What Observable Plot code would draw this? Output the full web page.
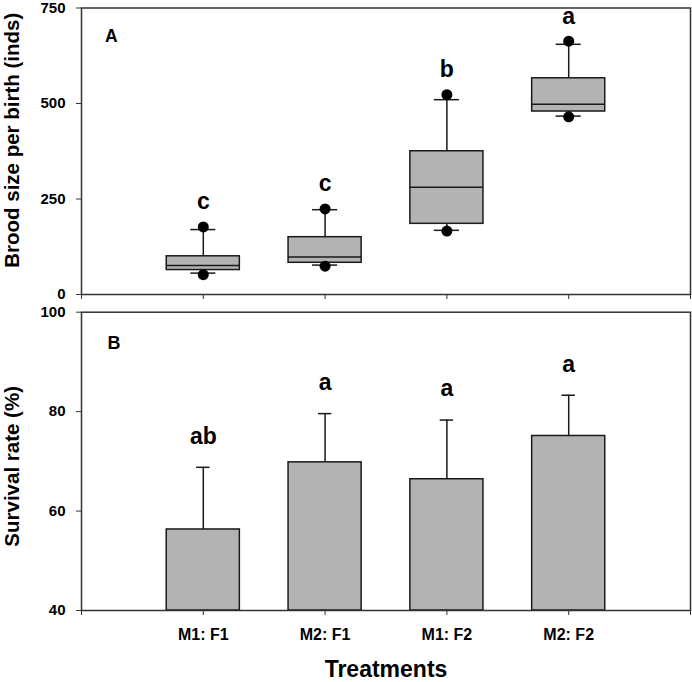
<!DOCTYPE html>
<html><head><meta charset="utf-8">
<script src="https://cdn.jsdelivr.net/npm/d3@7"></script>
<script src="https://cdn.jsdelivr.net/npm/@observablehq/plot@0.6"></script>
<style>
body{margin:0;background:#fff;}
#chart{position:relative;width:692px;height:682px;font-family:"Liberation Sans",Arial,sans-serif;}
#chart svg{display:block;}
</style></head><body><div id="chart"></div>
<script>
// ---- data ----
const treatments = ["M1: F1", "M2: F1", "M1: F2", "M2: F2"];
// Panel A: brood size box plots
const p5     = [52, 74, 166, 465];
const p10    = [56, 77, 168, 467];
const q1     = [64, 83, 185, 479];
const median = [76, 98, 281, 498];
const q3     = [100, 150, 375, 566];
const p90    = [170, 222, 510, 655];
const p95    = [177, 224, 523, 663];
const lettersA = ["c", "c", "b", "a"];
const yTicksA = [0, 250, 500, 750];
// Panel B: survival rate bars
const survival = [56.3, 69.8, 66.4, 75.1];
const survivalErr = [12.5, 9.8, 11.9, 8.2];
const lettersB = ["ab", "a", "a", "a"];
const yTicksB = [40, 60, 80, 100];
const xTitle = "Treatments";
const yTitleA = "Brood size per birth (inds)";
const yTitleB = "Survival rate (%)";
const panelA = "A", panelB = "B";

// ---- build tables ----
const boxes = treatments.map((t, i) => ({
  t, pos: i + 1, p5: p5[i], p10: p10[i], q1: q1[i], med: median[i],
  q3: q3[i], p90: p90[i], p95: p95[i], letter: lettersA[i]
}));
const bars = treatments.map((t, i) => ({
  t, pos: i + 1, v: survival[i], top: survival[i] + survivalErr[i], letter: lettersB[i]
}));

const font = "'Liberation Sans', Arial, sans-serif";
const style = {fontFamily: font, fontWeight: "bold", color: "#000", background: "transparent", overflow: "visible"};
const fill = "#b3b3b3", ink = "#1a1a1a", frameInk = "#333";
const bh = 0.3, ch = 0.103, eh = 0.055;
const endTicks = [0, 5];
const catTicks = treatments.map((t, i) => i + 1);

const common = {width: 692, marginLeft: 81, marginRight: 2, x: {domain: [0, 5]}, style};

const plotA = Plot.plot({
  ...common,
  height: 300, marginTop: 7.5, marginBottom: 6,
  y: {domain: [0, 750]},
  marks: [
    Plot.frame({stroke: frameInk, strokeWidth: 1.5}),
    Plot.axisY({ticks: yTicksA, tickSize: 5, tickPadding: 11, fontSize: 15, label: null, stroke: frameInk}),
    Plot.axisX({ticks: [...endTicks, ...catTicks], tickSize: 5, fill: "none", label: null, stroke: frameInk}),
    Plot.ruleX(boxes, {x: "pos", y1: "q3", y2: "p90", stroke: ink, strokeWidth: 1.5}),
    Plot.ruleX(boxes, {x: "pos", y1: "p10", y2: "q1", stroke: ink, strokeWidth: 1.5}),
    Plot.ruleY(boxes, {y: "p90", x1: d => d.pos - ch, x2: d => d.pos + ch, stroke: ink, strokeWidth: 1.5}),
    Plot.ruleY(boxes, {y: "p10", x1: d => d.pos - ch, x2: d => d.pos + ch, stroke: ink, strokeWidth: 1.5}),
    Plot.rect(boxes, {x1: d => d.pos - bh, x2: d => d.pos + bh, y1: "q1", y2: "q3", fill, stroke: ink, strokeWidth: 1.5}),
    Plot.ruleY(boxes, {y: "med", x1: d => d.pos - bh, x2: d => d.pos + bh, stroke: ink, strokeWidth: 1.5}),
    Plot.dot(boxes, {x: "pos", y: "p95", r: 5.5, fill: "#000"}),
    Plot.dot(boxes, {x: "pos", y: "p5", r: 5.5, fill: "#000"}),
    Plot.text(boxes, {x: "pos", y: "p95", text: "letter", dy: -25, fontSize: 23, fontWeight: "bold", fill: "#000"}),
    Plot.text([panelA], {frameAnchor: "top-left", text: d => d, textAnchor: "start", lineAnchor: "top", dx: 23.5, dy: 22, fontSize: 17.5, fontWeight: "bold", fill: "#000"}),
    Plot.text([yTitleA], {frameAnchor: "left", text: d => d, rotate: -90, textAnchor: "middle", lineAnchor: "middle", dx: -69, dy: -11, fontSize: 20.5, fontWeight: "bold", fill: "#000"})
  ]
});

const plotB = Plot.plot({
  ...common,
  height: 382, marginTop: 11.7, marginBottom: 72,
  y: {domain: [40, 100]},
  marks: [
    Plot.rect(bars, {x1: d => d.pos - bh, x2: d => d.pos + bh, y1: 40, y2: "v", fill, stroke: ink, strokeWidth: 1.5}),
    Plot.ruleX(bars, {x: "pos", y1: "v", y2: "top", stroke: ink, strokeWidth: 1.5}),
    Plot.ruleY(bars, {y: "top", x1: d => d.pos - eh, x2: d => d.pos + eh, stroke: ink, strokeWidth: 1.5}),
    Plot.frame({stroke: frameInk, strokeWidth: 1.5}),
    Plot.axisY({ticks: yTicksB, tickSize: 5, tickPadding: 11, fontSize: 15, label: null, stroke: frameInk}),
    Plot.axisX({ticks: endTicks, tickSize: 5, fill: "none", label: null, stroke: frameInk}),
    Plot.axisX({ticks: catTicks, tickSize: 5, tickPadding: 13, fontSize: 16, label: null, stroke: frameInk,
      tickFormat: d => treatments[d - 1]}),
    Plot.text(bars, {x: "pos", y: "top", text: "letter", dy: -31, fontSize: 23, fontWeight: "bold", fill: "#000"}),
    Plot.text([panelB], {frameAnchor: "top-left", text: d => d, textAnchor: "start", lineAnchor: "top", dx: 26, dy: 24, fontSize: 18, fontWeight: "bold", fill: "#000"}),
    Plot.text([yTitleB], {frameAnchor: "left", text: d => d, rotate: -90, textAnchor: "middle", lineAnchor: "middle", dx: -69, dy: 5, fontSize: 20.5, fontWeight: "bold", fill: "#000"}),
    Plot.text([xTitle], {frameAnchor: "bottom", text: d => d, textAnchor: "middle", lineAnchor: "middle", dy: 59.5, fontSize: 23, fontWeight: "bold", fill: "#000"})
  ]
});

const chart = document.getElementById("chart");
chart.appendChild(plotA);
chart.appendChild(plotB);
</script></body></html>
